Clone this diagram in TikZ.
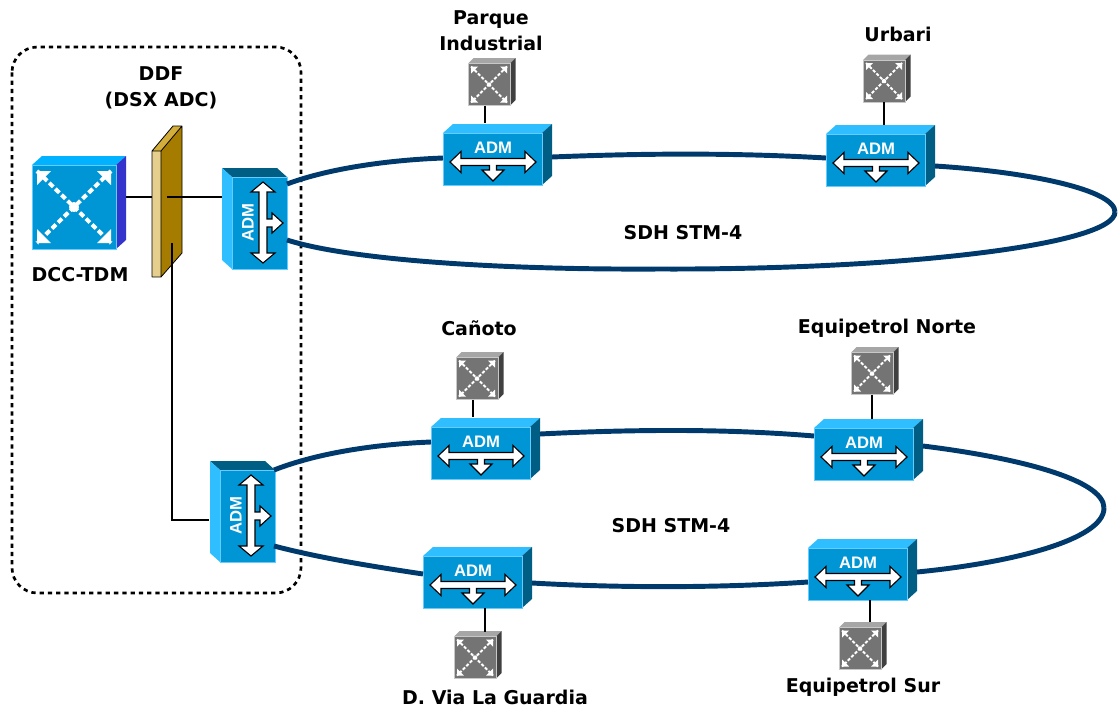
\documentclass[tikz,border=0pt]{standalone}
\usepackage{fontspec}
\setmainfont{DejaVu Sans}
\newfontfamily\admfont{Liberation Sans}
\definecolor{blueF}{HTML}{0095D5}
\definecolor{blueL}{HTML}{2FBEFF}
\definecolor{blueD}{HTML}{005E85}
\definecolor{blueE}{HTML}{66CCFF}
\definecolor{navy}{HTML}{003A6C}
\definecolor{dccT}{HTML}{00B2FF}
\definecolor{dccR}{HTML}{3434CC}
\definecolor{grayF}{HTML}{747474}
\definecolor{grayT}{HTML}{A6A6A6}
\definecolor{grayR}{HTML}{404040}
\definecolor{grayE}{HTML}{C8C8C8}
\definecolor{ddfF}{HTML}{E6CF8E}
\definecolor{ddfT}{HTML}{D4AE3A}
\definecolor{ddfR}{HTML}{A67C00}
\def\un{0.75pt}
\tikzset{
 x=0.75pt,y=-0.75pt,
 ring/.style={draw=navy,line width=3.7pt},
 thin link/.style={draw=black,line width=0.9pt},
 arrowshape/.style={fill=white,draw=black,line width=0.85pt,line join=miter},
 lab/.style={font=\bfseries\fontsize{14.25pt}{19.5pt}\selectfont,align=center,text=black,inner sep=0pt},
 admtxt/.style={font=\admfont\bfseries\fontsize{12.5pt}{14pt}\selectfont,text=white,inner sep=0pt},
 facebox/.style={anchor=north west,inner sep=0pt,outer sep=0pt,line width=0.75pt},
}
% horizontal ADM: name, x, y of front top-left
\newcommand{\admH}[3]{
 \begin{scope}[shift={(#2,#3)}]
  \fill[blueL] (0,0) -- (10,-9) -- (109,-9) -- (99,0) -- cycle;
  \fill[blueD] (99,0) -- (109,-9) -- (109,43) -- (99,52) -- cycle;
  \node[facebox,name=#1,fill=blueF,draw=blueE,minimum width=99*\un,minimum height=52*\un] at (0,0) {};
  \path[arrowshape] (7,29) -- (18,18.5) -- (18,25.5) -- (82,25.5) -- (82,18.5) -- (93,29) -- (82,39.5) -- (82,32.5)
    -- (53.5,32.5) -- (53.5,37) -- (61,37) -- (50,48) -- (39,37) -- (46.5,37) -- (46.5,32.5) -- (18,32.5) -- (18,39.5) -- cycle;
  \node[admtxt] (#1t) at (50,15) {ADM};
 \end{scope}}
% vertical ADM: name, x, y of front top-left
\newcommand{\admV}[3]{
 \begin{scope}[shift={(#2,#3)}]
  \fill[blueD] (0,0) -- (-10,-9) -- (45,-9) -- (55,0) -- cycle;
  \fill[blueL] (0,0) -- (-10,-9) -- (-10,83) -- (0,92) -- cycle;
  \node[facebox,name=#1,fill=blueF,draw=blueE,minimum width=55*\un,minimum height=92*\un] at (0,0) {};
  \path[arrowshape] (31,5) -- (43,15) -- (35,15) -- (35,42) -- (40,42) -- (40,36) -- (51,46) -- (40,56) -- (40,50)
    -- (35,50) -- (35,76) -- (43,76) -- (31,86) -- (19,76) -- (27,76) -- (27,15) -- (19,15) -- cycle;
  \node[admtxt,rotate=90] (#1t) at (16,46) {ADM};
 \end{scope}}
% grey cross-connect: name, x, y of front top-left
\newcommand{\grayoxc}[3]{
 \begin{scope}[shift={(#2,#3)}]
  \fill[grayT] (0,0) -- (5.5,-5.5) -- (47.5,-5.5) -- (42,0) -- cycle;
  \fill[grayR] (42,0) -- (47.5,-5.5) -- (47.5,36.5) -- (42,42) -- cycle;
  \node[facebox,name=#1,fill=grayF,draw=grayE,minimum width=42*\un,minimum height=42*\un] at (0,0) {};
  \draw[white,line width=1.5pt,dash pattern=on 2.4pt off 1.3pt] (3,3) -- (39,39) (39,3) -- (3,39);
  \fill[white] (3,3) -- (10,3) -- (3,10) -- cycle (39,3) -- (32,3) -- (39,10) -- cycle
     (3,39) -- (10,39) -- (3,32) -- cycle (39,39) -- (32,39) -- (39,32) -- cycle;
  \fill[white] (21,21) circle[radius=2.2];
 \end{scope}}
\begin{document}
\begin{tikzpicture}
\useasboundingbox (0,0) rectangle (1120,711);
% dashed enclosure
\draw[black,line width=2pt,dash pattern=on 3.2pt off 3pt,rounded corners=19pt] (12,47) rectangle (301,593);

% devices
\begin{scope}[shift={(32,165)}]
  \fill[dccT] (0,0) -- (10,-9) -- (94,-9) -- (84,0) -- cycle;
  \fill[dccR] (84,0) -- (94,-9) -- (94,75) -- (84,84) -- cycle;
  \node[facebox,name=dcc,fill=blueF,draw=blueE,minimum width=84*\un,minimum height=84*\un] at (0,0) {};
  \draw[white,line width=3pt,dash pattern=on 4.2pt off 2.2pt] (5,6) -- (79,78) (79,6) -- (5,78);
  \fill[white] (5,6) -- (19,6) -- (5,20) -- cycle (79,6) -- (65,6) -- (79,20) -- cycle
     (5,78) -- (19,78) -- (5,64) -- cycle (79,78) -- (65,78) -- (79,64) -- cycle;
  \fill[white] (42,42) circle[radius=5];
\end{scope}
\begin{scope}[shift={(152,151)}]
  \fill[ddfT] (0,0) -- (21,-25) -- (30,-25) -- (9,0) -- cycle;
  \fill[ddfR] (9,0) -- (30,-25) -- (30,102) -- (9,126) -- cycle;
  \node[facebox,name=ddf,fill=ddfF,minimum width=9*\un,minimum height=126*\un] at (0,0) {};
  \draw[black,line width=0.6pt,line join=round] (0,0) -- (21,-25) -- (30,-25) -- (30,102) -- (9,126) -- (0,126) -- cycle (0,0) -- (9,0) -- (30,-25) (9,0) -- (9,126);
  \coordinate (ddfin) at (15,46);
  \coordinate (ddfdown) at (20,92);
\end{scope}
\admV{va}{232}{177}
\admV{vb}{220}{470}
\admH{parque}{443}{133}
\admH{urbari}{826}{134}
\admH{canoto}{431}{427}
\admH{enorte}{814}{428}
\admH{dvia}{423}{556}
\admH{esur}{808}{548}
\grayoxc{oparque}{468}{63.5}
\grayoxc{ourbari}{863}{60}
\grayoxc{ocanoto}{456}{357.5}
\grayoxc{oenorte}{851}{352.5}
\grayoxc{odvia}{454}{636.5}
\grayoxc{oesur}{839}{627.5}

% thin links
\coordinate (dccout) at (126,197);
\coordinate (vain) at (222,197);
\coordinate (vbin) at (209,520);
\coordinate (ddfleft) at (152,197);
\draw[thin link] (dccout) -- (ddfleft);
\draw[thin link] (ddfin) -- (vain);
\draw[thin link] (ddfdown) |- (vbin);
\coordinate (pin) at (485,123);
\coordinate (uin) at (884,125);
\coordinate (cin) at (473,417);
\coordinate (nin) at (872,419);
\coordinate (din) at (485,632);
\coordinate (sin) at (870,622);
\draw[thin link] (oparque.south -| pin) -- (pin);
\draw[thin link] (ourbari.south -| uin) -- (uin);
\draw[thin link] (ocanoto.south -| cin) -- (cin);
\draw[thin link] (oenorte.south -| nin) -- (nin);
\draw[thin link] (dvia.south -| din) -- (din);
\draw[thin link] (esur.south -| sin) -- (sin);

% rings
\coordinate (e1) at (1115,212);
\coordinate (b1) at (660,269);
\coordinate (e2) at (1104,508);
\coordinate (a1) at (287,184);
\coordinate (a2) at (287,240);
\coordinate (a3) at (274,470);
\coordinate (a4) at (274,546);
\coordinate (p1) at (443,158);
\coordinate (p2) at (552,157);
\coordinate (u1) at (826,158);
\coordinate (u2) at (935,166);
\coordinate (c1) at (431,442);
\coordinate (c2) at (540,434);
\coordinate (n1) at (814,436);
\coordinate (n2) at (923,446);
\coordinate (s2) at (917,572);
\coordinate (s1) at (808,582);
\coordinate (d2) at (532,583);
\coordinate (d1) at (423,574);
\draw[ring] (a1) .. controls (330,168) and (390,160) .. (p1);
\draw[ring] (p2) .. controls (650,153) and (740,153) .. (u1);
\draw[ring] (u2) .. controls (1030,172) and (1115,190) .. (e1);
\draw[ring] (e1) .. controls (1115,245) and (900,270) .. (b1) .. controls (500,270) and (350,260) .. (a2);
\draw[ring] (a3) .. controls (320,452) and (380,444) .. (c1);
\draw[ring] (c2) .. controls (640,429) and (730,429) .. (n1);
\draw[ring] (n2) .. controls (1020,458) and (1104,480) .. (e2);
\draw[ring] (e2) .. controls (1104,540) and (1010,563) .. (s2);
\draw[ring] (s1) .. controls (720,588) and (620,588) .. (d2);
\draw[ring] (d1) .. controls (370,566) and (320,558) .. (a4);

% labels
\node[lab] (tparque) at (491,31) {Parque\\Industrial};
\node[lab] (turbari) at (898,34) {Urbari};
\node[lab] (tddf) at (161,88) {DDF\\(DSX ADC)};
\node[lab] (tdcc) at (80,275) {DCC-TDM};
\node[lab] (tr1) at (683,233) {SDH STM-4};
\node[lab] (tcan) at (479,328) {Cañoto};
\node[lab] (tnor) at (887,328) {Equipetrol Norte};
\node[lab] (tr2) at (671,526) {SDH STM-4};
\node[lab] (tdv) at (495,697) {D. Via La Guardia};
\node[lab] (tsur) at (863,687) {Equipetrol Sur};
\end{tikzpicture}
\end{document}
